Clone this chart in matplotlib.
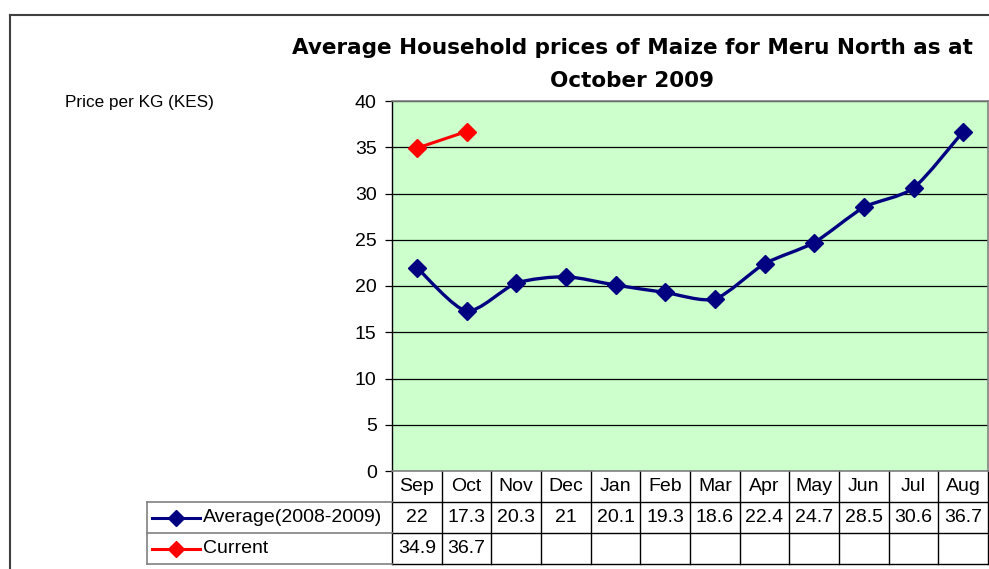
import numpy as np
import matplotlib
matplotlib.use('Agg')
import matplotlib.pyplot as plt
from matplotlib.path import Path
from matplotlib.patches import PathPatch
from matplotlib.lines import Line2D
import matplotlib.transforms as mtransforms

# Data
months = ['Sep', 'Oct', 'Nov', 'Dec', 'Jan', 'Feb', 'Mar', 'Apr', 'May', 'Jun', 'Jul', 'Aug']
average = [22, 17.3, 20.3, 21, 20.1, 19.3, 18.6, 22.4, 24.7, 28.5, 30.6, 36.7]
current = [34.9, 36.7]
avg_label = 'Average(2008-2009)'
cur_label = 'Current'
avg_color = '#000080'
cur_color = '#FF0000'

W, H = 989, 569
fig = plt.figure(figsize=(W / 100, H / 100), dpi=100)
plt.rcParams['font.family'] = ['Liberation Sans', 'DejaVu Sans']

# plot area in pixels
left, right, top, bottom = 392, 988, 101, 471
ax = fig.add_axes([left / W, (H - bottom) / H, (right - left) / W, (bottom - top) / H])
ax.set_facecolor('#CCFFCC')
ax.set_xlim(-0.5, len(months) - 0.5)
ax.set_ylim(0, 40)
ax.set_yticks(range(0, 41, 5))
ax.set_xticks([])
ax.yaxis.grid(True, color='black', lw=0.9)
ax.set_axisbelow(True)
for s in ['top', 'right', 'bottom']:
    ax.spines[s].set_color('#808080')
    ax.spines[s].set_linewidth(1.2)
ax.spines['left'].set_color('black')
ax.spines['left'].set_linewidth(1.0)
ax.tick_params(axis='y', direction='out', length=5, width=0.9, labelsize=14, pad=6)


def smooth_path(xs, ys, k=8.0):
    # cubic bezier through points (Excel-like smoothed line)
    pts = np.column_stack([xs, ys]).astype(float)
    verts = [pts[0]]
    codes = [Path.MOVETO]
    n = len(pts)
    for i in range(n - 1):
        p0 = pts[i - 1] if i > 0 else pts[i]
        p1 = pts[i]
        p2 = pts[i + 1]
        p3 = pts[i + 2] if i + 2 < n else pts[i + 1]
        c1 = p1 + (p2 - p0) / k
        c2 = p2 - (p3 - p1) / k
        verts += [c1, c2, p2]
        codes += [Path.CURVE4] * 3
    return Path(verts, codes)


x = np.arange(len(months))
ax.add_patch(PathPatch(smooth_path(x, average), fill=False, edgecolor=avg_color,
                       lw=2.4, capstyle='round', joinstyle='round', zorder=3))
ax.plot(x, average, ls='none', marker='D', ms=9, color=avg_color, zorder=4)
xc = np.arange(len(current))
ax.plot(xc, current, color=cur_color, lw=2.2, marker='D', ms=9, zorder=4)

# data table below the plot
row_h = 31 / (bottom - top)
trans = mtransforms.blended_transform_factory(ax.transData, ax.transAxes)
col = (right - left) / len(months)
leg_left = -0.5 - (left - 147) / col
tbl_kw = dict(transform=trans, clip_on=False, color='black', lw=1.0)
xr = len(months) - 0.5
for r in range(1, 4):
    ax.add_line(Line2D([-0.5, xr], [-r * row_h, -r * row_h], **tbl_kw))
for i in range(len(months) + 1):
    xv = i - 0.5
    ax.add_line(Line2D([xv, xv], [0, -3 * row_h], **tbl_kw))
# legend column box
gray_kw = dict(transform=trans, clip_on=False, color='#808080', lw=1.2)
for r in range(1, 4):
    ax.add_line(Line2D([leg_left, -0.5], [-r * row_h, -r * row_h], **gray_kw))
ax.add_line(Line2D([leg_left, leg_left], [-row_h, -3 * row_h], **gray_kw))

fs = 14
for i, m in enumerate(months):
    ax.text(i, -0.5 * row_h, m, transform=trans, ha='center', va='center', fontsize=fs)
    ax.text(i, -1.5 * row_h, f'{average[i]:g}', transform=trans, ha='center', va='center', fontsize=fs)
for i, v in enumerate(current):
    ax.text(i, -2.5 * row_h, f'{v:g}', transform=trans, ha='center', va='center', fontsize=fs)

for r, (lab, c) in enumerate([(avg_label, avg_color), (cur_label, cur_color)]):
    yy = -(1.5 + r) * row_h
    x0 = leg_left + 5 / col
    x1 = leg_left + 53 / col
    ax.add_line(Line2D([x0, x1], [yy, yy], color=c, lw=2.2, transform=trans, clip_on=False))
    ax.add_line(Line2D([(x0 + x1) / 2], [yy], color=c, marker='D', ms=8, transform=trans,
                       clip_on=False))
    ax.text(leg_left + 56 / col, yy, lab, transform=trans, ha='left', va='center', fontsize=fs)

# title and y label
fig.text(632 / W, 1 - 48 / H, 'Average Household prices of Maize for Meru North as at',
         ha='center', va='center', fontsize=15.5, fontweight='bold', family='DejaVu Sans')
fig.text(632 / W, 1 - 81 / H, 'October 2009',
         ha='center', va='center', fontsize=15.5, fontweight='bold', family='DejaVu Sans')
fig.text(65 / W, 1 - 103 / H, 'Price per KG (KES)', ha='left', va='center', fontsize=12.3)

# outer chart border
fig.add_artist(Line2D([10 / W, 1.0], [1 - 15 / H, 1 - 15 / H], color='#404040', lw=1.5,
                      transform=fig.transFigure))
fig.add_artist(Line2D([10 / W, 10 / W], [0, 1 - 15 / H], color='#404040', lw=1.5,
                      transform=fig.transFigure))

fig.savefig('out.png', dpi=100)
